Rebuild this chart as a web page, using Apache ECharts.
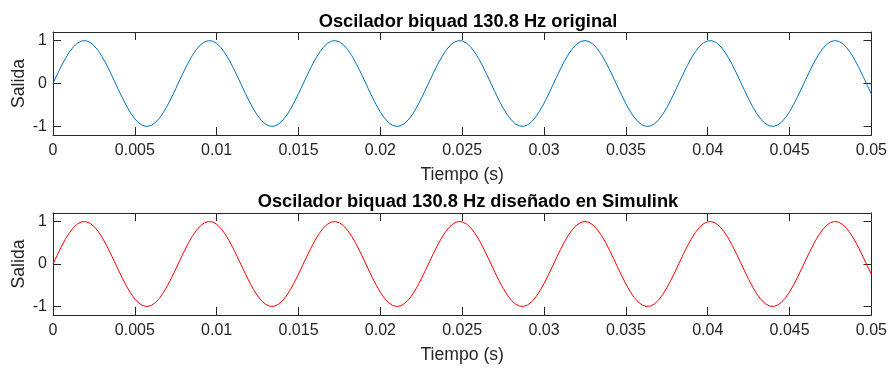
<!DOCTYPE html>
<html>
<head>
<meta charset="utf-8">
<script src="https://cdn.jsdelivr.net/npm/echarts@6/dist/echarts.min.js"></script>
<style>
html,body{margin:0;padding:0;background:#fff;}
#chart{width:890px;height:368px;}
</style>
</head>
<body>
<div id="chart"></div>
<script>
// Tiempo (s)
const tiempo = [
0,0.00025,0.0005,0.00075,0.001,0.00125,0.0015,0.00175,0.002,0.00225,
0.0025,0.00275,0.003,0.00325,0.0035,0.00375,0.004,0.00425,0.0045,0.00475,
0.005,0.00525,0.0055,0.00575,0.006,0.00625,0.0065,0.00675,0.007,0.00725,
0.0075,0.00775,0.008,0.00825,0.0085,0.00875,0.009,0.00925,0.0095,0.00975,
0.01,0.01025,0.0105,0.01075,0.011,0.01125,0.0115,0.01175,0.012,0.01225,
0.0125,0.01275,0.013,0.01325,0.0135,0.01375,0.014,0.01425,0.0145,0.01475,
0.015,0.01525,0.0155,0.01575,0.016,0.01625,0.0165,0.01675,0.017,0.01725,
0.0175,0.01775,0.018,0.01825,0.0185,0.01875,0.019,0.01925,0.0195,0.01975,
0.02,0.02025,0.0205,0.02075,0.021,0.02125,0.0215,0.02175,0.022,0.02225,
0.0225,0.02275,0.023,0.02325,0.0235,0.02375,0.024,0.02425,0.0245,0.02475,
0.025,0.02525,0.0255,0.02575,0.026,0.02625,0.0265,0.02675,0.027,0.02725,
0.0275,0.02775,0.028,0.02825,0.0285,0.02875,0.029,0.02925,0.0295,0.02975,
0.03,0.03025,0.0305,0.03075,0.031,0.03125,0.0315,0.03175,0.032,0.03225,
0.0325,0.03275,0.033,0.03325,0.0335,0.03375,0.034,0.03425,0.0345,0.03475,
0.035,0.03525,0.0355,0.03575,0.036,0.03625,0.0365,0.03675,0.037,0.03725,
0.0375,0.03775,0.038,0.03825,0.0385,0.03875,0.039,0.03925,0.0395,0.03975,
0.04,0.04025,0.0405,0.04075,0.041,0.04125,0.0415,0.04175,0.042,0.04225,
0.0425,0.04275,0.043,0.04325,0.0435,0.04375,0.044,0.04425,0.0445,0.04475,
0.045,0.04525,0.0455,0.04575,0.046,0.04625,0.0465,0.04675,0.047,0.04725,
0.0475,0.04775,0.048,0.04825,0.0485,0.04875,0.049,0.04925,0.0495,0.04975,
0.05
];
// Salida - oscilador original
const salidaOriginal = [
0,0.2040,0.3995,0.5780,0.7324,0.8559,0.9434,0.9912,0.9973,0.9615,
0.8852,0.7716,0.6256,0.4534,0.2621,0.0597,-0.1453,-0.3441,-0.5283,-0.6903,
-0.8236,-0.9219,-0.9816,-0.9999,-0.9762,-0.9114,-0.8082,-0.6711,-0.5058,-0.3192,
-0.1191,0.0860,0.2875,0.4768,0.6460,0.7883,0.8972,0.9684,0.9989,0.9874,
0.9344,0.8420,0.7140,0.5564,0.3751,0.1781,-0.0264,-0.2298,-0.4235,-0.5994,
-0.7501,-0.8692,-0.9518,-0.9944,-0.9951,-0.9539,-0.8726,-0.7547,-0.6050,-0.4298,
-0.2365,-0.0333,0.1713,0.3687,0.5505,0.7093,0.8382,0.9319,0.9863,0.9992,
0.9701,0.9002,0.7925,0.6514,0.4828,0.2940,0.0929,-0.1122,-0.3126,-0.4998,
-0.6660,-0.8042,-0.9085,-0.9747,-0.9998,-0.9829,-0.9246,-0.8275,-0.6958,-0.5342,
-0.3505,-0.1521,0.0528,0.2554,0.4473,0.6202,0.7675,0.8819,0.9596,0.9968,
0.9921,0.9457,0.8595,0.7371,0.5837,0.4057,0.2108,0.0069,-0.1973,-0.3931,
-0.5724,-0.7277,-0.8524,-0.9411,-0.9903,-0.9978,-0.9634,-0.8884,-0.7758,-0.6312,
-0.4597,-0.2687,-0.0666,0.1384,0.3376,0.5225,0.6854,0.8196,0.9193,0.9802,
1.0000,0.9777,0.9142,0.8124,0.6763,0.5118,0.3257,0.1260,-0.0791,-0.2808,
-0.4707,-0.6408,-0.7839,-0.8942,-0.9667,-0.9986,-0.9885,-0.9368,-0.8457,-0.7189,
-0.5621,-0.3815,-0.1849,0.0195,0.2231,0.4172,0.5938,0.7456,0.8658,0.9497,
0.9936,0.9957,0.9560,0.8761,0.7590,0.6104,0.4360,0.2432,0.0402,-0.1645,
-0.3622,-0.5447,-0.7046,-0.8344,-0.9293,-0.9851,-0.9995,-0.9718,-0.9032,-0.7966,
-0.6568,-0.4888,-0.3006,-0.0997,0.1054,0.3060,0.4938,0.6609,0.7998,0.9056,
0.9731,0.9996,0.9841,0.9272,0.8313,0.7004,0.5401,0.3570,0.1589,-0.0459,
-0.2487
];
// Salida - oscilador diseñado en Simulink
const salidaSimulink = [
0,0.2040,0.3995,0.5780,0.7324,0.8559,0.9434,0.9912,0.9973,0.9615,
0.8852,0.7716,0.6256,0.4534,0.2621,0.0597,-0.1453,-0.3441,-0.5283,-0.6903,
-0.8236,-0.9219,-0.9816,-0.9999,-0.9762,-0.9114,-0.8082,-0.6711,-0.5058,-0.3192,
-0.1191,0.0860,0.2875,0.4768,0.6460,0.7883,0.8972,0.9684,0.9989,0.9874,
0.9344,0.8420,0.7140,0.5564,0.3751,0.1781,-0.0264,-0.2298,-0.4235,-0.5994,
-0.7501,-0.8692,-0.9518,-0.9944,-0.9951,-0.9539,-0.8726,-0.7547,-0.6050,-0.4298,
-0.2365,-0.0333,0.1713,0.3687,0.5505,0.7093,0.8382,0.9319,0.9863,0.9992,
0.9701,0.9002,0.7925,0.6514,0.4828,0.2940,0.0929,-0.1122,-0.3126,-0.4998,
-0.6660,-0.8042,-0.9085,-0.9747,-0.9998,-0.9829,-0.9246,-0.8275,-0.6958,-0.5342,
-0.3505,-0.1521,0.0528,0.2554,0.4473,0.6202,0.7675,0.8819,0.9596,0.9968,
0.9921,0.9457,0.8595,0.7371,0.5837,0.4057,0.2108,0.0069,-0.1973,-0.3931,
-0.5724,-0.7277,-0.8524,-0.9411,-0.9903,-0.9978,-0.9634,-0.8884,-0.7758,-0.6312,
-0.4597,-0.2687,-0.0666,0.1384,0.3376,0.5225,0.6854,0.8196,0.9193,0.9802,
1.0000,0.9777,0.9142,0.8124,0.6763,0.5118,0.3257,0.1260,-0.0791,-0.2808,
-0.4707,-0.6408,-0.7839,-0.8942,-0.9667,-0.9986,-0.9885,-0.9368,-0.8457,-0.7189,
-0.5621,-0.3815,-0.1849,0.0195,0.2231,0.4172,0.5938,0.7456,0.8658,0.9497,
0.9936,0.9957,0.9560,0.8761,0.7590,0.6104,0.4360,0.2432,0.0402,-0.1645,
-0.3622,-0.5447,-0.7046,-0.8344,-0.9293,-0.9851,-0.9995,-0.9718,-0.9032,-0.7966,
-0.6568,-0.4888,-0.3006,-0.0997,0.1054,0.3060,0.4938,0.6609,0.7998,0.9056,
0.9731,0.9996,0.9841,0.9272,0.8313,0.7004,0.5401,0.3570,0.1589,-0.0459,
-0.2487
];
const titulos = ['Oscilador biquad 130.8 Hz original', 'Oscilador biquad 130.8 Hz diseñado en Simulink'];
const yTicks = [-1, 0, 1];
const xLabel = 'Tiempo (s)';
const yLabel = 'Salida';

const FONT = '"Liberation Sans", Arial, Helvetica, sans-serif';
const AX = '#262626';

function pairs(xs, ys){ return xs.map((x,i)=>[x, ys[i]]); }

const grids = [
  {left:53, right:17, top:32, height:103},
  {left:53, right:17, top:213, height:102}
];

const xAxes = [], yAxes = [];
grids.forEach((g, gi) => {
  const base = {
    type:'value', gridIndex:gi, min:0, max:0.05, interval:0.005,
    axisLine:{show:true, onZero:false, lineStyle:{color:AX, width:1}},
    axisTick:{show:true, inside:true, length:8, lineStyle:{color:AX}},
    splitLine:{show:false}
  };
  xAxes.push(Object.assign({}, base, {
    position:'bottom',
    axisLabel:{show:true, margin:8, color:AX, fontSize:16, fontFamily:FONT,
      formatter: v => String(parseFloat(v.toFixed(4)))},
    name:xLabel, nameLocation:'middle', nameGap:31, nameMoveOverlap:false,
    nameTextStyle:{color:AX, fontSize:17.6, fontFamily:FONT}
  }));
  xAxes.push(Object.assign({}, base, {
    position:'top', axisLabel:{show:false}
  }));
  const ybase = {
    type:'value', gridIndex:gi, min:-1.2, max:1.2,
    axisLine:{show:true, onZero:false, lineStyle:{color:AX, width:1}},
    axisTick:{show:true, inside:true, length:8, customValues:yTicks, lineStyle:{color:AX}},
    splitLine:{show:false}
  };
  yAxes.push(Object.assign({}, ybase, {
    position:'left',
    axisLabel:{show:true, margin:6, color:AX, fontSize:16, fontFamily:FONT, customValues:yTicks},
    name:yLabel, nameLocation:'middle', nameGap:25, nameMoveOverlap:false,
    nameTextStyle:{color:AX, fontSize:17.6, fontFamily:FONT}
  }));
  yAxes.push(Object.assign({}, ybase, {
    position:'right', axisLabel:{show:false}
  }));
});

const chart = echarts.init(document.getElementById('chart'), null, {renderer:'canvas'});
chart.setOption({
  backgroundColor:'#ffffff',
  animation:false,
  title: [
    {text:titulos[0], left:463, top:8, textAlign:'center',
     textStyle:{fontSize:18.3, fontWeight:'bold', color:'#000', fontFamily:FONT}},
    {text:titulos[1], left:463, top:188, textAlign:'center',
     textStyle:{fontSize:18.3, fontWeight:'bold', color:'#000', fontFamily:FONT}}
  ],
  grid: grids,
  xAxis: xAxes,
  yAxis: yAxes,
  series: [
    {type:'line', xAxisIndex:0, yAxisIndex:0, data:pairs(tiempo, salidaOriginal),
     showSymbol:false, smooth:false, lineStyle:{color:'#0072BD', width:1}, itemStyle:{color:'#0072BD'}},
    {type:'line', xAxisIndex:2, yAxisIndex:2, data:pairs(tiempo, salidaSimulink),
     showSymbol:false, smooth:false, lineStyle:{color:'#FF0000', width:1}, itemStyle:{color:'#FF0000'}}
  ]
});
</script>
</body>
</html>
